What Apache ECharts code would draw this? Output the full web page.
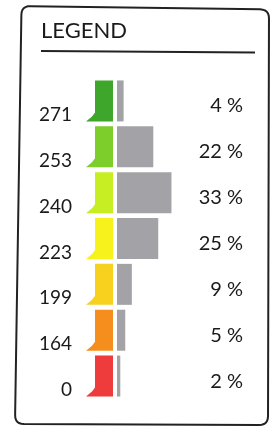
<!DOCTYPE html>
<html>
<head>
<meta charset="utf-8">
<script src="https://cdn.jsdelivr.net/npm/echarts@6/dist/echarts.min.js"></script>
<style>
  html, body { margin: 0; padding: 0; background: #fff; }
  #main { width: 270px; height: 427px; }
</style>
</head>
<body>
<div id="main"></div>
<script>
// thresholds on the left, share of each band on the right
const thresholds = ['271', '253', '240', '223', '199', '164', '0'];
const shares = [4, 22, 33, 25, 9, 5, 2];
const bandColors = ['#3fa62c', '#7dcd2b', '#c6ee22', '#f8f21c', '#f7d11e', '#f58e1c', '#ee3b3b'];

const chart = echarts.init(document.getElementById('main'));
const font = 'Lato, "Open Sans", sans-serif';

// frame of the scanned legend is a bit skewed, so round off a quad by hand
function roundedQuad(corners, r) {
  const pts = [];
  for (let i = 0; i < 4; i++) {
    const c = corners[i];
    const prev = corners[(i + 3) % 4];
    const next = corners[(i + 1) % 4];
    const d1 = Math.hypot(prev[0] - c[0], prev[1] - c[1]);
    const d2 = Math.hypot(next[0] - c[0], next[1] - c[1]);
    const a = [c[0] + (prev[0] - c[0]) * r / d1, c[1] + (prev[1] - c[1]) * r / d1];
    const b = [c[0] + (next[0] - c[0]) * r / d2, c[1] + (next[1] - c[1]) * r / d2];
    for (let k = 0; k <= 6; k++) {
      const t = k / 6;
      pts.push([
        (1 - t) * (1 - t) * a[0] + 2 * (1 - t) * t * c[0] + t * t * b[0],
        (1 - t) * (1 - t) * a[1] + 2 * (1 - t) * t * c[1] + t * t * b[1]
      ]);
    }
  }
  return pts;
}

chart.setOption({
  backgroundColor: '#fff',
  animation: false,
  title: {
    text: 'LEGEND',
    left: 41,
    top: 20,
    padding: 0,
    textStyle: { fontFamily: font, fontSize: 22, fontWeight: 'normal', color: '#1a1a1a' }
  },
  graphic: [
    {
      type: 'polygon',
      shape: { points: roundedQuad([[21.5, 6], [269, 9.5], [268, 425], [15, 424]], 9) },
      style: { fill: 'none', stroke: '#222', lineWidth: 2 }
    },
    {
      type: 'line',
      shape: { x1: 41, y1: 51, x2: 255, y2: 52.5 },
      style: { stroke: '#222', lineWidth: 2 }
    }
  ],
  grid: [
    { left: 86, top: 78, width: 27, height: 321 },
    { left: 117, top: 78, width: 99, height: 321 }
  ],
  xAxis: [
    { type: 'value', gridIndex: 0, min: 0, max: 1, show: false },
    { type: 'value', gridIndex: 1, min: 0, max: 60, show: false }
  ],
  yAxis: [
    {
      type: 'category', gridIndex: 0, data: thresholds, inverse: true,
      axisLine: { show: false }, axisTick: { show: false }, splitLine: { show: false },
      axisLabel: {
        interval: 0, margin: 14, fontFamily: font, fontSize: 19, color: '#1a1a1a',
        verticalAlign: 'top', lineHeight: 28
      }
    },
    {
      type: 'category', gridIndex: 1, data: thresholds, inverse: true, position: 'right',
      axisLine: { show: false }, axisTick: { show: false }, splitLine: { show: false },
      axisLabel: {
        interval: 0, margin: 27, align: 'right', fontFamily: font, fontSize: 20, color: '#1a1a1a',
        verticalAlign: 'top', lineHeight: 10,
        formatter: (v, i) => shares[i] + ' %'
      }
    }
  ],
  series: [
    {
      type: 'custom',
      xAxisIndex: 0,
      yAxisIndex: 0,
      data: thresholds.map((t, i) => [1, i]),
      renderItem: function (params, api) {
        const p = api.coord([api.value(0), api.value(1)]);
        const h = 41;
        const left = params.coordSys.x;
        const top = p[1] - h / 2;
        const bottom = p[1] + h / 2;
        return {
          type: 'polygon',
          shape: {
            points: [
              [left + 9, top], [p[0], top], [p[0], bottom],
              [left, bottom], [left + 6, bottom - 5], [left + 9, bottom - 9]
            ]
          },
          style: { fill: bandColors[params.dataIndex] }
        };
      }
    },
    {
      type: 'bar',
      xAxisIndex: 1,
      yAxisIndex: 1,
      data: shares,
      barWidth: 41,
      itemStyle: { color: '#a3a3a7' }
    }
  ]
});
</script>
</body>
</html>
